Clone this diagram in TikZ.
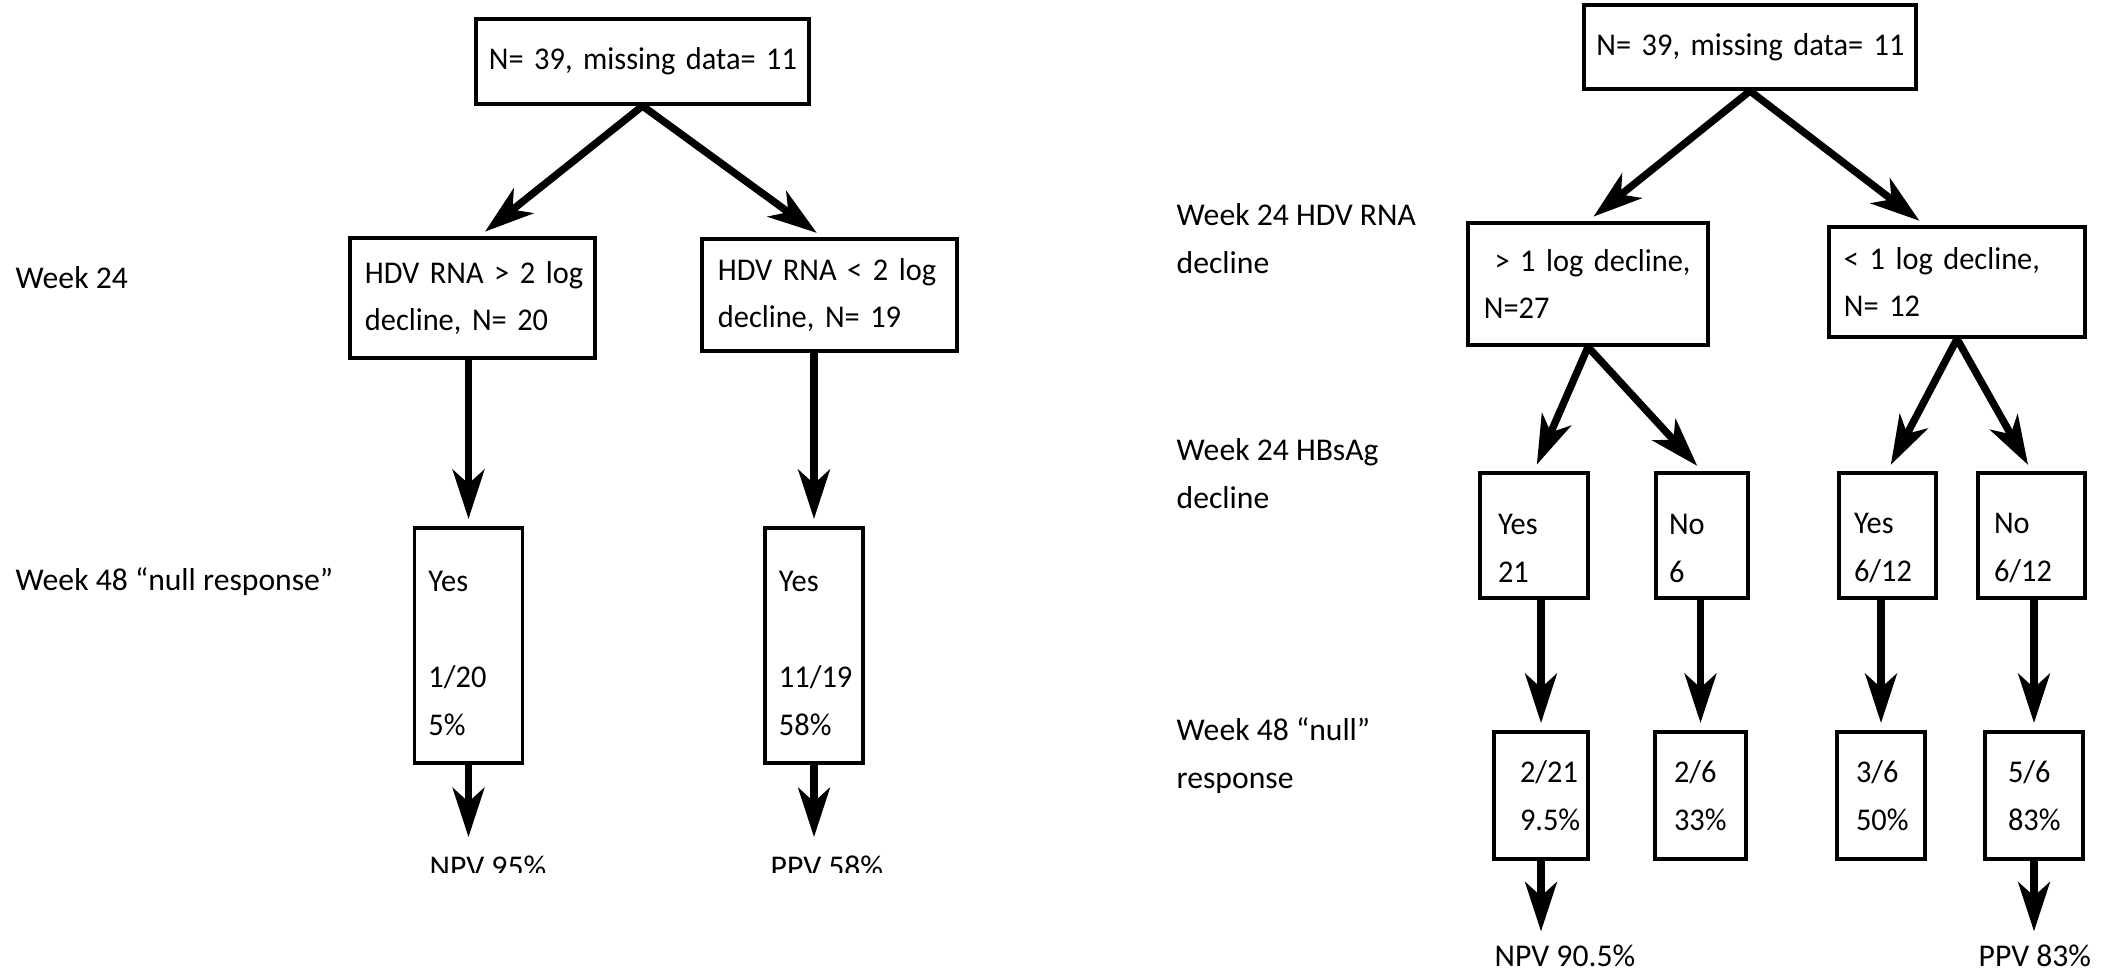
\documentclass[tikz,border=0pt]{standalone}
\usepackage{fontspec}
\setmainfont{Carlito}
\newfontfamily\boxfont{Carlito}[FakeStretch=0.96]
\usetikzlibrary{arrows.meta}
\hyphenpenalty=10000
\exhyphenpenalty=10000
\begin{document}
\begin{tikzpicture}[x=0.01cm, y=-0.01cm]
  \tikzstyle{every node}=[font=\fontsize{9}{13.6}\selectfont, inner sep=0pt]
  \tikzstyle{box}=[draw, line width=1.1pt, align=left, inner xsep=0.14cm, font=\fontsize{9}{13.6}\boxfont]
  \tikzstyle{tall}=[box, minimum height=2.35cm, execute at begin node={\rule{0pt}{10.4pt}}]
  \tikzstyle{yesno}=[box, minimum height=1.25cm, execute at begin node={\rule{0pt}{13pt}}]
  \tikzstyle{ratio}=[box, minimum height=1.27cm]
  \tikzstyle{rowname}=[anchor=base west, align=left]
  \tikzstyle{arrow}=[line width=2.1pt, shorten >=2pt,
                     -{Stealth[length=14pt, width=9pt, inset=4pt]}]
  \useasboundingbox (0,0) rectangle (2112,978);

  \node[box, text width=3.07cm, inner xsep=0.13cm, minimum height=0.85cm] (top) at (642.5,61.5) {N=~39,~missing~data=~11};
  \node[box, text width=2.15cm, inner xsep=0.15cm, minimum height=1.2cm] (hi) at (472.5,298) {HDV~RNA~>~2~log\\decline,~N=~20};
  \node[box, text width=2.23cm, inner xsep=0.16cm, minimum height=1.12cm] (lo) at (829.5,295) {HDV~RNA~<~2~log\\decline,~N=~19};
  \node[tall, text width=0.80cm] (hiyes) at (468.5,645.5) {Yes\\[13.6pt]1/20\\5\%};
  \node[tall, text width=0.70cm] (loyes) at (814,645.5) {Yes\\[13.6pt]11/19\\58\%};
  \node[rowname] (wk24) at (15,288) {Week 24};
  \node[rowname] (wk48) at (15,590) {Week 48 “null response”};
  \begin{scope}
    \clip (0,0) rectangle (1056,872);
    \node[rowname] (npv) at (429,877) {NPV 95\%};
    \node[rowname] (ppv) at (770,877) {PPV 58\%};
  \end{scope}
  \draw[arrow] (top.south) -- ([xshift=0.07cm]hi.north);
  \draw[arrow] (top.south) -- ([xshift=-0.07cm]lo.north);
  \draw[arrow] (hiyes.north |- hi.south) -- (hiyes.north);
  \draw[arrow] (loyes.north |- lo.south) -- (loyes.north);
  \draw[arrow, shorten >=5pt] (hiyes.south) -- (hiyes.south |- npv.north);
  \draw[arrow, shorten >=5pt] (loyes.south) -- (loyes.south |- ppv.north);

  \node[box, text width=3.07cm, inner xsep=0.125cm, minimum height=0.84cm] (top2) at (1750,47) {N=~39,~missing~data=~11};
  \node[box, text width=2.08cm, inner xsep=0.16cm, minimum height=1.22cm] (big) at (1588,284) {\ >~1~log~decline,\\N=27};
  \node[box, text width=2.26cm, inner xsep=0.15cm, minimum height=1.10cm] (small) at (1957,282) {<~1~log~decline,\\N=~12};
  \node[yesno, text width=0.72cm, inner xsep=0.18cm] (y21) at (1534,535.5) {Yes\\21};
  \node[yesno, text width=0.66cm, inner xsep=0.13cm] (n6) at (1702,535.5) {No\\6};
  \node[yesno, text width=0.67cm, inner xsep=0.15cm] (y612) at (1887.5,535.5) {Yes\\6/12};
  \node[yesno, text width=0.75cm, inner xsep=0.16cm] (n612) at (2031.5,535.5) {No\\6/12};
  \node[ratio, text width=0.42cm, inner xsep=0.26cm] (r21) at (1541,795.5) {2/21\\9.5\%};
  \node[ratio, text width=0.53cm, inner xsep=0.19cm] (r26) at (1700.5,795.5) {2/6\\33\%};
  \node[ratio, text width=0.50cm, inner xsep=0.19cm] (r36) at (1881,795.5) {3/6\\50\%};
  \node[ratio, text width=0.52cm, inner xsep=0.23cm] (r56) at (2034,795.5) {5/6\\83\%};
  \node[rowname] (rna) at (1176,273) {Week 24 HDV RNA\\decline};
  \node[rowname] (hbs) at (1176,508) {Week 24 HBsAg\\decline};
  \node[rowname] (null) at (1176,788) {Week 48 “null”\\response};
  \node[rowname] (npv2) at (1494,966) {NPV 90.5\%};
  \node[rowname] (ppv2) at (1978,966) {PPV 83\%};
  \draw[arrow] (top2.south) -- (big.north);
  \draw[arrow] (top2.south) -- ([xshift=-0.32cm]small.north);
  \draw[arrow] (big.south) -- (y21.north);
  \draw[arrow] (big.south) -- (n6.north);
  \draw[arrow] (small.south) -- (y612.north);
  \draw[arrow] (small.south) -- (n612.north);
  \draw[arrow] (r21.north |- y21.south) -- (r21.north);
  \draw[arrow] (r26.north |- n6.south) -- (r26.north);
  \draw[arrow] (r36.north |- y612.south) -- (r36.north);
  \draw[arrow] (r56.north |- n612.south) -- (r56.north);
  \draw[arrow, shorten >=3.5pt] (r21.south) -- (r21.south |- npv2.north);
  \draw[arrow, shorten >=3.5pt] (r56.south) -- (r56.south |- ppv2.north);
\end{tikzpicture}
\end{document}
